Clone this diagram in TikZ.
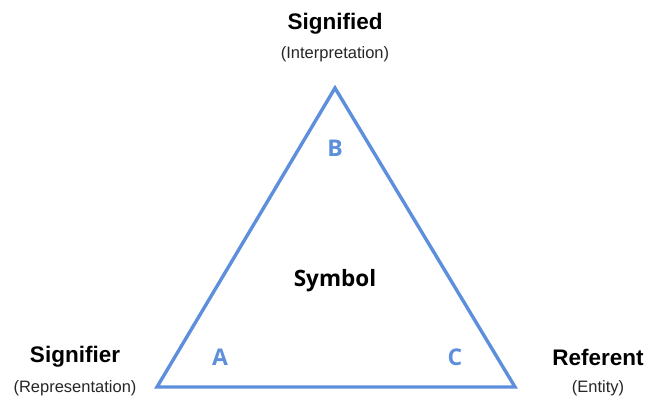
\documentclass[tikz,border=0pt]{standalone}
\usepackage{fontspec}
\setmainfont{Liberation Sans}
\newfontfamily\uifont{Open Sans}
\usepackage{xcolor}
\usetikzlibrary{positioning}
\definecolor{edgec}{RGB}{93,143,220}
\begin{document}
\begin{tikzpicture}[x=1pt, y=-1pt,
    title/.style={font=\fontsize{22.5}{26}\selectfont\bfseries, text=black, inner sep=0pt},
    sub/.style={font=\fontsize{16.5}{19}\selectfont, text=black!85, inner sep=0pt},
    corner/.style={font=\uifont\fontsize{23}{26}\selectfont\bfseries, text=edgec, inner sep=0pt},
    side/.style={draw=edgec, line width=3.4pt, line join=miter}]
  \useasboundingbox (0,0) rectangle (647,402);
  % vertices
  \coordinate (vb) at (335,88);
  \coordinate (va) at (157,387);
  \coordinate (vc) at (515,387);
  \draw[side] (va) -- (vb) -- (vc) -- cycle;
  % corner letters
  \node[corner] (lb) at (335,148) {B};
  \node[corner] (la) at (220,357) {A};
  \node[corner] (lc) at (455,357) {C};
  \node[font=\uifont\fontsize{22.5}{26}\selectfont\bfseries, inner sep=0pt] (sym) at (335,281) {Symbol};
  % labels
  \node[title] (sigd) at (335,23.5) {Signified};
  \node[sub] (interp) at (335,54) {(Interpretation)};
  \node[title] (sigr) at (75,357) {Signifier};
  \node[sub] (repr) at (75,388) {(Representation)};
  \node[title] (ref) at (598,357) {Referent};
  \node[sub] (ent) at (598,388) {(Entity)};
\end{tikzpicture}
\end{document}
